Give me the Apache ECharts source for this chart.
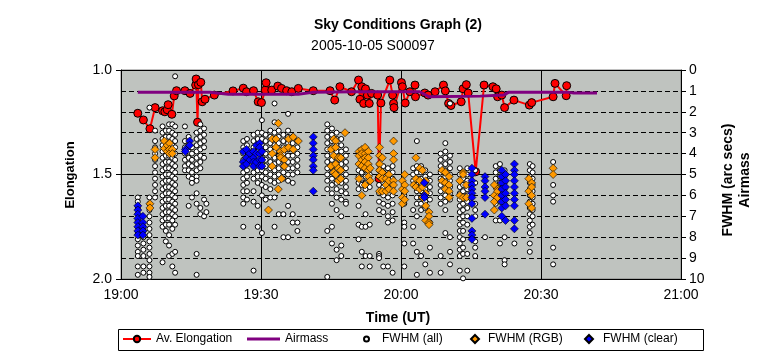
<!DOCTYPE html>
<html>
<head>
<meta charset="utf-8">
<script src="https://cdn.jsdelivr.net/npm/echarts@6/dist/echarts.min.js"></script>
<style>
html,body{margin:0;padding:0;background:#fff;}
#c{width:764px;height:359px;}
</style>
</head>
<body>
<div id="c"></div>
<script>
// time in minutes after 19:00 UT
const xTickLabels = ['19:00','19:30','20:00','20:30','21:00'];
const yLeftLabels = ['1.0','1.5','2.0'];

const avElongation = [
  [3.6,1.207],[4.8,1.239],[6.2,1.281],[7.3,1.18],[8.9,1.195],[9.4,1.2],[9.9,1.19],[10.1,1.166],[10.9,1.212],
  [11.4,1.124],[11.9,1.099],[13.7,1.099],[14.8,1.112],[16.0,1.072],[16.1,1.043],[16.4,1.25],[16.6,1.07],
  [17.1,1.059],[17.4,1.152],[18.0,1.14],[20.0,1.12],[24.0,1.10],[26.2,1.087],[26.9,1.104],[28.4,1.099],
  [29.4,1.152],[30.1,1.156],[30.9,1.096],[31.1,1.061],[32.3,1.096],[33.6,1.077],[34.4,1.088],[35.5,1.099],
  [36.6,1.104],[38.0,1.088],[41.2,1.099],[44.8,1.099],[45.8,1.144],[46.9,1.08],[49.4,1.104],[50.9,1.048],
  [51.2,1.14],[51.6,1.08],[52.0,1.16],[52.4,1.09],[52.8,1.12],[53.2,1.16],[53.7,1.112],[55.0,1.12],
  [55.3,1.52],[55.7,1.158],[57.6,1.048],[58.2,1.12],[58.4,1.16],[58.5,1.18],[60.1,1.06],[60.3,1.08],
  [60.9,1.158],[61.9,1.104],[63.0,1.072],[63.1,1.128],[65.1,1.11],[65.8,1.12],[67.3,1.104],[69.1,1.072],
  [69.5,1.10],[70.2,1.16],[70.7,1.17],[72.9,1.152],[73.3,1.09],[74.0,1.07],[74.4,1.11],[76.0,1.487],
  [77.8,1.072],[79.7,1.08],[80.4,1.09],[80.7,1.128],[81.6,1.12],[82.2,1.18],[84.2,1.144],[87.5,1.168],
  [88.0,1.156],[92.6,1.128],[93.0,1.064],[95.4,1.123],[95.5,1.075]
];

const airmass = [
  [3.6,1.07],[19,1.07],[23,1.16],[38,1.16],[41,1.07],[50,1.04],[64,1.04],[66,1.28],[77,1.25],
  [82,1.2],[83,1.07],[96,1.07],[97,1.1],[102,1.1]
];

// [time, [FWHM values]]
const fwhmAll = [
  [3.6,[6.1,6.3,6.6,6.9,7.2,7.5,7.8,8.1,8.4,8.7,8.9,9.4,9.8]],
  [4.8,[7.5,7.7,8.0,8.3,8.6,8.9,9.4,9.7]],
  [6.1,[1.8,6.1,6.4,6.7,7.0,7.3,7.6,7.9,8.2,8.5,8.8,9.1,9.4,9.7,9.9]],
  [7.3,[2.9,3.4,3.7,4.0,4.3,4.6,4.9,5.2,5.5,5.8,6.1]],
  [8.9,[2.7,3.0,3.3,3.6,3.9,4.2,4.5,4.8,5.1,5.4,5.7,6.0,6.3,6.6,6.9,7.2,7.5,9.2]],
  [9.6,[2.9,3.2,3.5,3.8,4.1,4.4,4.7,5.0,5.3,5.6,5.9,6.2,6.5,6.8,7.1,7.4,7.7,8.2]],
  [10.3,[2.6,2.9,3.2,3.5,3.8,4.1,4.4,4.7,5.0,5.3,5.6,5.9,6.2,6.5,6.8,7.1,7.4,7.9,8.4,8.9]],
  [11.0,[2.6,3.0,3.3,3.6,3.9,4.2,4.5,4.8,5.1,5.4,5.7,6.0,6.3,6.6,6.9,7.2,7.6,8.8,9.4]],
  [11.6,[0.3,2.7,3.1,3.4,3.7,4.0,4.3,4.6,4.9,5.2,5.5,5.8,6.1,6.4,6.7,7.0,7.4,8.7,9.7]],
  [13.7,[2.7,3.4,3.7,4.0,4.3,4.6,4.8]],
  [14.5,[3.2,3.6,3.9,4.2,4.5,4.8,5.1,6.5]],
  [15.2,[3.7,4.0,4.3,4.6,4.9,5.2,5.4,6.1]],
  [16.2,[3.0,3.3,3.6,3.9,4.2,4.5,4.8,5.1,5.3,5.9,6.4,8.8,9.8]],
  [17.0,[2.6,2.9,3.2,3.5,3.8,4.1,4.4,4.7,6.6,6.9]],
  [17.8,[2.8,3.1,3.4,3.7,4.2,6.2,7.0]],
  [18.3,[6.4,6.8]],
  [26.2,[3.4,3.7,4.0,4.3,4.6,4.9,5.2,5.5,5.8,6.1,6.4,7.5]],
  [27.0,[3.3,3.6,3.9,4.2,4.5,4.8,5.1,5.4,5.8,6.2]],
  [28.4,[3.1,3.4,3.7,4.0,4.3,4.6,4.9,5.2,5.8,6.3,9.6]],
  [29.3,[3.0,3.3,3.6,3.9,4.2,4.5,4.8,5.1,5.4,6.5,7.5]],
  [30.2,[2.4,3.0,3.3,3.6,3.9,4.2,4.5,4.8,5.1,5.5,6.0,7.8]],
  [31.0,[3.1,3.4,3.7,4.0,4.3,4.6,4.9,5.2,5.6,6.2]],
  [32.0,[2.9,3.2,3.5,3.8,4.1,4.4,4.7,5.0,5.3,5.7,6.1]],
  [32.9,[1.6,2.5,3.0,3.3,3.6,3.9,4.2,4.5,4.8,5.1,5.4,6.1,7.5]],
  [33.8,[2.9,3.2,3.5,3.8,4.1,4.4,4.7,5.0,5.3,6.9]],
  [34.8,[3.1,3.4,3.7,4.0,4.3,4.6,4.9,5.2,6.9,8.0]],
  [35.8,[2.1,2.9,3.2,3.5,3.8,4.1,4.4,4.7,5.0,5.3,6.5,8.0]],
  [36.8,[3.2,3.5,3.8,4.1,4.4,4.7,5.0,5.4,6.9,7.3]],
  [37.8,[3.4,3.7,4.0,4.3,4.6,4.9,7.3,7.7]],
  [44.2,[2.6,2.9,3.2,3.5,3.8,4.1,4.4,4.7,5.0,5.3,5.7,7.7,9.9]],
  [45.2,[2.8,3.1,3.4,3.7,4.0,4.3,4.6,4.9,5.2,5.5,5.9,6.4,7.5,8.3]],
  [46.2,[3.0,3.3,3.6,3.9,4.2,4.5,4.8,5.1,5.4,5.7,6.1,6.7,8.6,9.1]],
  [47.2,[3.3,3.6,3.9,4.2,4.5,4.8,5.1,5.4,5.8,6.2,7.0,8.4,8.9]],
  [48.2,[3.8,4.1,4.4,4.7,5.0,5.3,5.6,5.9,6.3,6.4]],
  [50.9,[4.8,5.1,5.4,5.7,6.5,7.4,8.1]],
  [51.6,[4.9,5.2,5.5,7.5,8.7,9.4]],
  [52.4,[4.8,5.1,5.4,5.7,6.9,7.5,8.9]],
  [53.3,[5.0,5.3,5.6,7.4,8.9,9.4]],
  [55.3,[4.5,4.8,5.1,5.5,5.9,6.3,6.7,8.8,8.9,9.0]],
  [56.2,[4.6,4.9,5.2,5.6,6.0,6.4,6.8,9.4]],
  [57.2,[4.7,5.0,5.3,5.7,6.1,6.5,7.0,7.3,9.4]],
  [58.2,[4.6,4.9,5.2,5.6,6.0,6.4,6.8,7.2,9.7]],
  [60.7,[6.0,6.4,7.3,7.5,8.3,9.4]],
  [62.6,[4.7,5.0,5.3,6.7,7.5,8.3]],
  [63.4,[3.4,4.6,4.9,5.2,5.5,5.8,6.1,6.4,7.0,8.7,9.8]],
  [64.3,[4.6,4.9,5.2,5.5,5.8,6.1,6.4,6.7,8.9]],
  [65.2,[4.8,5.1,5.4,5.7,6.0,6.3,6.6,9.3]],
  [66.2,[5.0,5.3,5.6,5.9,6.2,7.3,8.5,9.7]],
  [68.5,[4.0,4.3,4.6,4.9,5.2,5.5,5.8,6.1,6.4,8.9,9.7]],
  [69.5,[3.5,3.9,4.2,4.5,4.8,5.1,5.4,5.7,6.0,6.3,6.7,7.8]],
  [70.5,[1.6,4.1,4.4,4.7,5.0,5.3,5.6,5.9,6.2,8.0,8.7,9.3]],
  [72.6,[4.7,5.0,5.3,5.6,5.9,6.2,6.5,6.8,7.1,7.4,7.7,8.0,8.3,8.6,8.9,9.6]],
  [73.3,[4.9,5.2,5.5,5.8,6.1,6.4,6.7,7.0,7.3,7.7,8.1,8.5,8.8,9.97]],
  [74.2,[4.7,5.0,5.3,5.7,6.0,6.3,6.6,7.0,7.4,8.8,9.6]],
  [75.9,[4.8,5.4,6.4,6.7,7.0,8.2,8.5,8.9]],
  [78.0,[8.0]],
  [80.3,[4.6,4.9,5.2,5.6,6.0,6.4,7.2]],
  [81.2,[4.5,4.8,5.1,5.4,5.7,6.0,6.3,7.2,8.3]],
  [82.2,[4.8,5.1,5.4,5.7,6.0,6.4,8.0,9.1,9.3]],
  [84.3,[8.3]],
  [87.6,[4.5,4.8,5.1,5.4,5.7,6.0,6.3,6.6,6.9,7.2,7.5,7.8,8.3,8.7]],
  [88.2,[4.6,4.9,5.2,5.5,5.8,6.1,6.4,6.7,7.0,7.4]],
  [92.6,[4.4,5.5,6.0,6.3,8.5,9.3]]
];

const fwhmRGB = [
  [6.2,[6.4,6.6]],[7.3,[3.8,4.2]],[9.3,[3.4,3.75]],[9.9,[3.6,3.9]],[10.4,[3.5,3.8,4.0]],[11.0,[3.8,4.0]],
  [31.6,[6.7]],[32.4,[3.3,4.0,4.6]],[33.2,[3.3,3.7]],[33.7,[2.55,5.7]],[34.2,[3.9,4.1,4.2]],[34.4,[5.2]],
  [35.0,[3.8,4.3,4.6]],[35.9,[3.3,3.7]],[36.9,[3.2,3.8]],[38.0,[3.4]],
  [45.0,[3.8,4.6]],[45.6,[3.3,4.1,4.9]],[46.0,[3.4,3.7,4.5,5.0]],[46.6,[4.2,4.7,5.3]],[47.1,[4.2,4.8,5.2]],
  [48.0,[3.0]],[51.0,[3.9,4.1,4.5,5.2]],[51.6,[3.8,4.0,4.3,4.6,6.0]],[52.3,[3.7,4.0,4.2,4.4,4.7,5.5]],
  [53.0,[3.9,4.2,4.5,4.8,5.1]],[53.4,[4.7,5.3]],[55.4,[3.7,4.1,4.5,4.8,5.1,5.8]],[56.0,[4.2,4.9,5.2,5.8]],
  [56.8,[5.2,5.5,5.8]],[57.4,[5.0,5.3,5.7]],[58.4,[3.4,4.0,4.3,5.3,5.5,5.8]],[60.3,[5.3,5.7,6.1,6.4]],
  [60.8,[5.0,5.5,5.8,6.2]],[62.7,[5.5]],[63.2,[4.2,5.2,5.6]],[64.0,[4.7,5.3,5.7]],[64.6,[4.8,5.6,6.1]],
  [65.3,[5.3,5.9,6.5,7.2]],[66.0,[6.8,7.0,7.3,7.4]],[68.8,[4.8,5.3]],[69.5,[4.9,5.4,5.7]],[70.3,[5.1,5.5,5.8,6.1]],
  [72.6,[5.3,6.0]],[73.3,[4.9,5.0,6.1]],[74.0,[5.5,6.1]],[80.0,[5.5,6.0,6.3,6.7]],[80.7,[5.7,5.8,6.1]],
  [87.4,[5.2,5.8,6.4]],[88.0,[5.4,5.6,6.0,6.6]],[92.6,[4.7,5.0]]
];

const fwhmClear = [
  [3.6,[6.5,6.7,6.9,7.1,7.3,7.5,7.7,7.9]],[4.7,[7.0,7.3,7.5,7.7,7.9]],[13.8,[3.8,3.9]],[14.7,[3.4,3.6]],
  [26.2,[3.9,4.4,4.6]],[26.9,[3.8,4.2,4.5]],[27.6,[4.0,4.3]],[28.4,[3.9,4.2,4.4,4.6]],[29.0,[3.6,4.0,4.4]],
  [29.7,[3.5,3.7,4.0,4.3,4.6]],[30.2,[3.9,4.3,4.6]],[41.2,[3.2,3.5,3.8,4.1,4.3,4.6,4.8,5.8]],[65.0,[5.4,6.0,6.1]],
  [75.2,[4.7,5.0,5.3,5.5,5.7,5.9,6.1,6.4,7.1,7.7,7.9,8.1]],[78.0,[5.1,5.3,5.6,5.8,6.1,6.9]],
  [81.6,[4.8,5.1,5.4,5.7,6.0,6.3,6.6,7.0]],[82.4,[5.0,5.3,5.6,5.9,6.2,6.5,7.2]],
  [84.3,[4.5,4.8,5.0,5.3,5.6,5.9,6.2,6.5,7.2,7.6]]
];

function flat(cols){const out=[];cols.forEach(c=>c[1].forEach(v=>out.push([c[0],v])));return out;}

const FONT = "'Liberation Sans', Arial, sans-serif";
const chart = echarts.init(document.getElementById('c'), null, {renderer:'canvas'});

function legendItem(name, icon, left, w, h, pad){
  return {data:[{name:name, icon:icon}], left:left, top:333, itemWidth:w, itemHeight:h, itemGap:0,
    textStyle:{fontFamily:FONT, fontSize:12, color:'#000', padding:[0,0,0,pad]}, selectedMode:false, padding:0};
}

chart.setOption({
  animation:false,
  backgroundColor:'#fff',
  graphic:[
    {type:'text', x:398, y:25, style:{text:'Sky Conditions Graph (2)', font:"bold 14px "+FONT, fill:'#000', textAlign:'center', textVerticalAlign:'middle'}},
    {type:'text', x:373, y:46, style:{text:'2005-10-05 S00097', font:"14px "+FONT, fill:'#000', textAlign:'center', textVerticalAlign:'middle'}},
    {type:'text', x:70, y:175, rotation:Math.PI/2, style:{text:'Elongation', font:"bold 13px "+FONT, fill:'#000', textAlign:'center', textVerticalAlign:'middle'}},
    {type:'text', x:398, y:318, style:{text:'Time (UT)', font:"bold 14px "+FONT, fill:'#000', textAlign:'center', textVerticalAlign:'middle'}},
    {type:'text', x:728, y:180, rotation:Math.PI/2, style:{text:'FWHM (arc secs)', font:"bold 14px "+FONT, fill:'#000', textAlign:'center', textVerticalAlign:'middle'}},
    {type:'text', x:745, y:180, rotation:Math.PI/2, style:{text:'Airmass', font:"bold 14px "+FONT, fill:'#000', textAlign:'center', textVerticalAlign:'middle'}},
    {type:'rect', shape:{x:118.5, y:329.5, width:585, height:21}, style:{fill:'none', stroke:'#000', lineWidth:1}, z:-1}
  ],
  legend:[
    legendItem('Av. Elongation','',122,28,8,0),
    legendItem('Airmass','rect',247,33,3,0),
    legendItem('FWHM (all)','circle',363,5,5,8),
    legendItem('FWHM (RGB)','diamond',470,8,8,4),
    legendItem('FWHM (clear)','diamond',584,8,8,5)
  ].map(l=>{ if(!l.data[0].icon){ l.data=[l.data[0].name]; } return l; }),
  grid:{left:121, right:83, top:70, bottom:80, show:true, backgroundColor:'#bfc3bf', borderColor:'#808080', borderWidth:1},
  xAxis:{type:'value', min:0, max:120, interval:30,
    axisLine:{lineStyle:{color:'#000'}}, axisTick:{length:5, lineStyle:{color:'#000'}},
    axisLabel:{fontFamily:FONT, fontSize:14, color:'#000', margin:9, formatter:(v)=>xTickLabels[Math.round(v/30)]},
    splitLine:{show:true, lineStyle:{color:'#000', width:1}}},
  yAxis:[
    {type:'value', min:1, max:2, interval:0.5, inverse:true, position:'left',
      axisLine:{show:true, lineStyle:{color:'#000'}}, axisTick:{show:true, length:5, lineStyle:{color:'#000'}},
      axisLabel:{fontFamily:FONT, fontSize:14, color:'#000', margin:9, formatter:(v)=>yLeftLabels[Math.round((v-1)/0.5)]},
      splitLine:{show:true, lineStyle:{color:'#000', width:1}}},
    {type:'value', min:0, max:10, interval:1, inverse:true, position:'right',
      axisLine:{show:true, lineStyle:{color:'#000'}}, axisTick:{show:true, length:5, lineStyle:{color:'#000'}},
      axisLabel:{fontFamily:FONT, fontSize:14, color:'#000', margin:8},
      splitLine:{show:true, lineStyle:{color:'#000', width:1, type:[5,3]}}}
  ],
  series:[
    {name:'Av. Elongation', type:'line', yAxisIndex:0, data:avElongation, symbol:'circle', symbolSize:8,
      itemStyle:{color:'#ff0000', borderColor:'#000', borderWidth:1}, lineStyle:{color:'#ff0000', width:2}, z:2},
    {name:'Airmass', type:'line', yAxisIndex:1, data:airmass, symbol:'none', showSymbol:false,
      itemStyle:{color:'#800080'}, lineStyle:{color:'#800080', width:3}, z:3},
    {name:'FWHM (all)', type:'scatter', yAxisIndex:1, data:flat(fwhmAll), symbol:'circle', symbolSize:5,
      itemStyle:{color:'#ffffff', borderColor:'#000', borderWidth:1, opacity:1}, z:4},
    {name:'FWHM (RGB)', type:'scatter', yAxisIndex:1, data:flat(fwhmRGB), symbol:'diamond', symbolSize:8,
      itemStyle:{color:'#ff9900', borderColor:'#000', borderWidth:0.6, opacity:1}, z:5},
    {name:'FWHM (clear)', type:'scatter', yAxisIndex:1, data:flat(fwhmClear), symbol:'diamond', symbolSize:8,
      itemStyle:{color:'#0000ff', borderColor:'#000', borderWidth:0.6, opacity:1}, z:6}
  ]
});
</script>
</body>
</html>
